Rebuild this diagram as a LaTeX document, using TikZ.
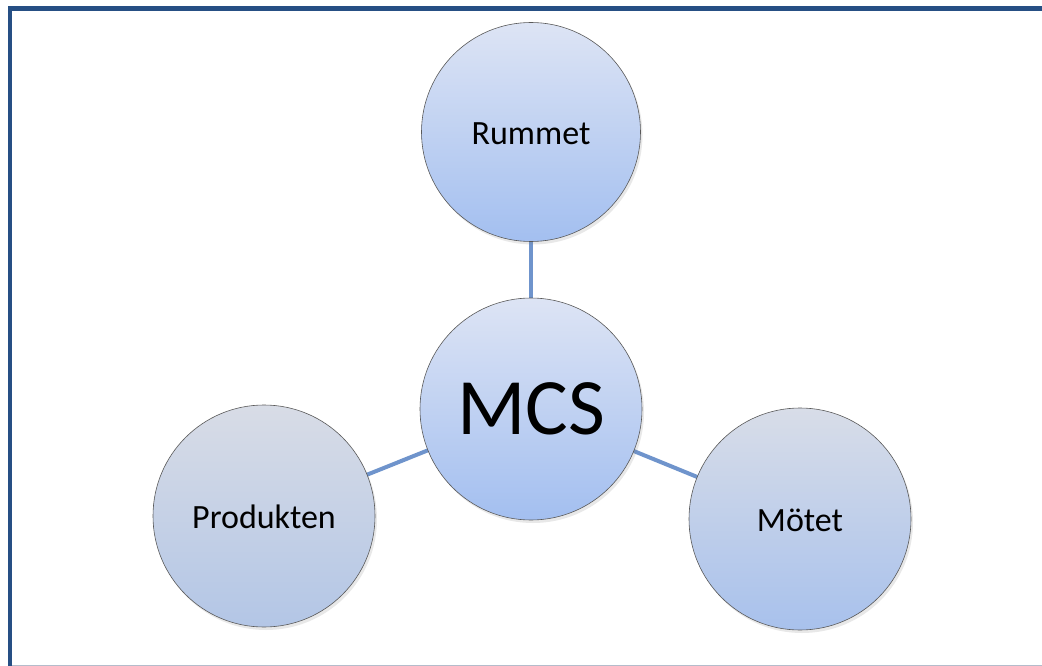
\documentclass[tikz,border=0pt]{standalone}
\usepackage{fontspec}
\setmainfont{Carlito}
\usetikzlibrary{shadows}
\definecolor{frameblue}{HTML}{264F84}
\definecolor{linkblue}{HTML}{6F94CC}
\definecolor{bottomgray}{HTML}{B4BCCB}
\definecolor{topA}{HTML}{DDE4F4}
\definecolor{botA}{HTML}{A3BFF0}
\definecolor{topB}{HTML}{D8DCE6}
\definecolor{botB}{HTML}{B3C6E6}
\definecolor{topC}{HTML}{D8DDE8}
\definecolor{botC}{HTML}{A8C1EC}
\tikzset{
  bubble/.style={circle, draw=black!65, line width=0.6pt, inner sep=0pt,
    drop shadow={shadow xshift=2pt, shadow yshift=-3pt, opacity=0.18}},
  link/.style={draw=linkblue, line width=4pt},
  lbl/.style={font=\fontsize{34}{40}\selectfont}
}
\begin{document}
\begin{tikzpicture}[x=1pt,y=-1pt]
\useasboundingbox (0,0) rectangle (1042,666);
\fill[white] (0,0) rectangle (1042,666);
% frame
\draw[bottomgray, line width=1pt] (10,665) -- (1042,665);
\draw[frameblue, line width=4.5pt] (10,666) -- (10,8.3) -- (1042,8.3);
% nodes
\coordinate (cR) at (531,132);
\coordinate (cM) at (531,409);
\coordinate (cP) at (264,516);
\coordinate (cT) at (800,519);
\draw[link] (cM) -- (cR);
\draw[link] (cM) -- (cP);
\draw[link] (cM) -- (cT);
\node[bubble, minimum size=219pt, top color=topA, bottom color=botA] (R) at (cR) {};
\node[bubble, minimum size=222pt, top color=topA, bottom color=botA] (M) at (cM) {};
\node[bubble, minimum size=222pt, top color=topB, bottom color=botB] (P) at (cP) {};
\node[bubble, minimum size=222pt, top color=topC, bottom color=botC] (T) at (cT) {};
\node[lbl] (tR) at ([yshift=-2pt]cR) {Rummet};
\node[font=\fontsize{80}{90}\selectfont] (tM) at (cM) {MCS};
\node[lbl] (tP) at ([yshift=-1pt]cP) {Produkten};
\node[lbl] (tT) at ([yshift=-1pt]cT) {Mötet};
\end{tikzpicture}
\end{document}
